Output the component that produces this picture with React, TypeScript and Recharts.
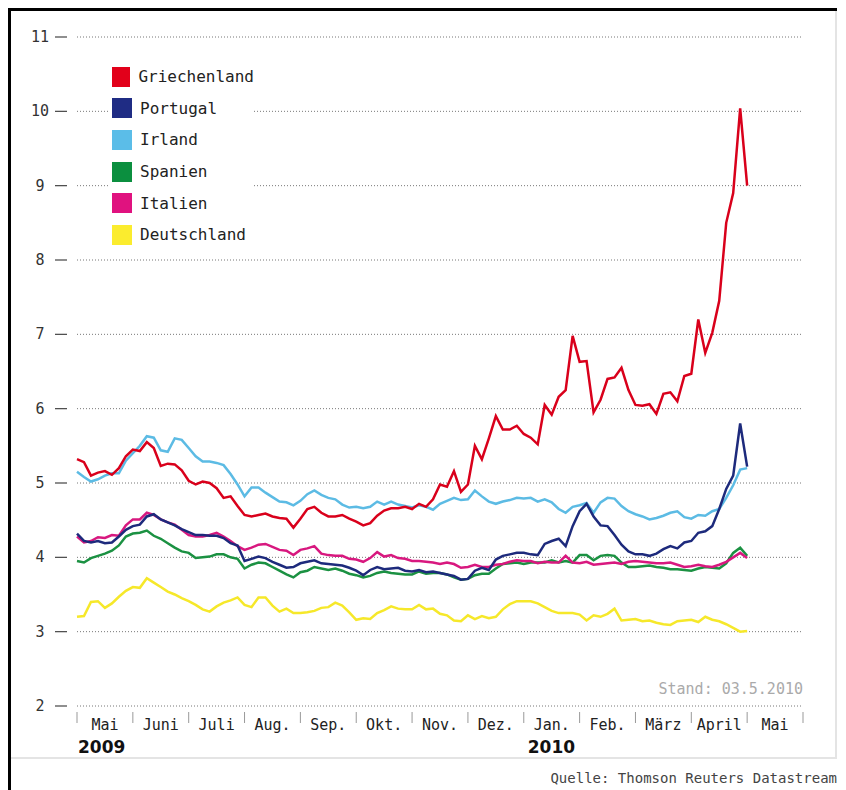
import React from "react";
import { LineChart, Line, XAxis, YAxis, CartesianGrid, Legend } from "recharts";

// Renditen 10-jähriger Staatsanleihen in %, Mai 2009 bis 3. Mai 2010
// 8 readings per month, last value = 03.05.2010
const MONTHS = ["Mai", "Juni", "Juli", "Aug.", "Sep.", "Okt.", "Nov.", "Dez.", "Jan.", "Feb.", "März", "April", "Mai"];
const YEAR_LABELS = [
  { at: 0, label: "2009" },
  { at: 8, label: "2010" },
];
const Y_TICKS = [2, 3, 4, 5, 6, 7, 8, 9, 10, 11];
const PER_MONTH = 8;

const griechenland = [
  5.32, 5.28, 5.10, 5.14, 5.16, 5.11, 5.20, 5.36,
  5.45, 5.43, 5.55, 5.47, 5.23, 5.26, 5.25, 5.17,
  5.03, 4.98, 5.02, 5.00, 4.93, 4.80, 4.82, 4.69,
  4.57, 4.55, 4.57, 4.59, 4.55, 4.53, 4.52, 4.40,
  4.52, 4.65, 4.68, 4.60, 4.55, 4.55, 4.57, 4.52,
  4.48, 4.43, 4.46, 4.56, 4.63, 4.66, 4.66, 4.68,
  4.65, 4.72, 4.68, 4.78, 4.98, 4.95, 5.16, 4.88,
  4.98, 5.50, 5.32, 5.60, 5.90, 5.72, 5.72, 5.77,
  5.66, 5.61, 5.52, 6.05, 5.92, 6.16, 6.25, 6.98,
  6.63, 6.64, 5.95, 6.12, 6.40, 6.42, 6.55, 6.25,
  6.05, 6.04, 6.06, 5.93, 6.20, 6.22, 6.10, 6.44,
  6.47, 7.20, 6.75, 7.02, 7.45, 8.50, 8.90, 10.04,
  9.00,
];
const portugal = [
  4.32, 4.22, 4.20, 4.22, 4.19, 4.20, 4.28, 4.37,
  4.42, 4.44, 4.55, 4.58, 4.51, 4.47, 4.43, 4.38,
  4.34, 4.30, 4.30, 4.29, 4.29, 4.26, 4.19, 4.16,
  3.95, 3.98, 4.01, 3.99, 3.94, 3.90, 3.86, 3.87,
  3.92, 3.94, 3.96, 3.92, 3.91, 3.90, 3.89, 3.86,
  3.82, 3.76, 3.83, 3.87, 3.84, 3.85, 3.86, 3.82,
  3.81, 3.83, 3.80, 3.81, 3.79, 3.77, 3.75, 3.70,
  3.71, 3.82, 3.86, 3.83, 3.97, 4.02, 4.04, 4.06,
  4.06, 4.04, 4.03, 4.18, 4.22, 4.25, 4.15, 4.42,
  4.62, 4.72, 4.55, 4.43, 4.42, 4.30, 4.17, 4.08,
  4.04, 4.04, 4.02, 4.05, 4.11, 4.15, 4.12, 4.20,
  4.22, 4.33, 4.35, 4.42, 4.65, 4.92, 5.10, 5.80,
  5.22,
];
const irland = [
  5.15, 5.08, 5.02, 5.05, 5.10, 5.13, 5.13, 5.30,
  5.40, 5.50, 5.63, 5.61, 5.44, 5.42, 5.60, 5.58,
  5.47, 5.36, 5.29, 5.29, 5.27, 5.24, 5.12, 4.98,
  4.82, 4.94, 4.94, 4.87, 4.81, 4.75, 4.74, 4.70,
  4.76, 4.85, 4.90, 4.84, 4.80, 4.78, 4.71, 4.67,
  4.68, 4.66, 4.68, 4.75, 4.71, 4.75, 4.71, 4.69,
  4.67, 4.70, 4.68, 4.64, 4.72, 4.76, 4.80, 4.77,
  4.78, 4.90, 4.82, 4.75, 4.72, 4.75, 4.77, 4.80,
  4.79, 4.80, 4.75, 4.78, 4.74, 4.65, 4.60, 4.68,
  4.70, 4.73, 4.60, 4.74, 4.80, 4.79, 4.69, 4.62,
  4.58, 4.55, 4.51, 4.53, 4.56, 4.60, 4.62, 4.54,
  4.52, 4.57, 4.56, 4.62, 4.65, 4.80, 4.97, 5.18,
  5.20,
];
const spanien = [
  3.95, 3.93, 3.99, 4.02, 4.05, 4.09, 4.16, 4.28,
  4.32, 4.33, 4.36, 4.29, 4.25, 4.19, 4.13, 4.08,
  4.06, 3.99, 4.00, 4.01, 4.04, 4.04, 4.00, 3.98,
  3.85, 3.90, 3.93, 3.92, 3.87, 3.82, 3.77, 3.73,
  3.80, 3.82, 3.87, 3.85, 3.83, 3.85, 3.82, 3.78,
  3.76, 3.73, 3.75, 3.79, 3.81, 3.79, 3.78, 3.77,
  3.77, 3.81, 3.78, 3.79, 3.79, 3.77, 3.73, 3.70,
  3.71, 3.76, 3.78, 3.78, 3.85, 3.91, 3.92, 3.93,
  3.91, 3.93, 3.93, 3.93, 3.96, 3.93, 3.95, 3.93,
  4.03, 4.03, 3.96, 4.02, 4.03, 4.02, 3.93, 3.87,
  3.87, 3.88, 3.89, 3.87, 3.86, 3.84, 3.84, 3.83,
  3.82, 3.85, 3.87, 3.86, 3.85, 3.92, 4.06, 4.13,
  4.02,
];
const italien = [
  4.28, 4.20, 4.22, 4.27, 4.26, 4.30, 4.29, 4.43,
  4.51, 4.51, 4.60, 4.57, 4.51, 4.47, 4.44, 4.37,
  4.30, 4.28, 4.28, 4.30, 4.33, 4.28, 4.22, 4.15,
  4.10, 4.13, 4.17, 4.18, 4.14, 4.10, 4.09, 4.03,
  4.10, 4.12, 4.15, 4.05, 4.03, 4.02, 4.02, 3.98,
  3.97, 3.94, 3.99, 4.07, 4.01, 4.03, 3.99, 3.98,
  3.95, 3.95, 3.94, 3.93, 3.91, 3.93, 3.91, 3.86,
  3.87, 3.90, 3.87, 3.87, 3.90, 3.91, 3.94, 3.96,
  3.95, 3.95, 3.92, 3.94, 3.93, 3.93, 4.02, 3.93,
  3.92, 3.94, 3.90, 3.91, 3.92, 3.93, 3.91, 3.94,
  3.95, 3.94, 3.93, 3.92, 3.92, 3.93, 3.90, 3.87,
  3.88, 3.90, 3.88, 3.87, 3.90, 3.94, 4.00, 4.06,
  3.99,
];
const deutschland = [
  3.20, 3.21, 3.40, 3.41, 3.32, 3.38, 3.47, 3.55,
  3.60, 3.59, 3.72, 3.66, 3.60, 3.54, 3.50, 3.45,
  3.41, 3.36, 3.30, 3.27, 3.34, 3.39, 3.42, 3.46,
  3.36, 3.33, 3.46, 3.46, 3.35, 3.27, 3.31, 3.25,
  3.25, 3.26, 3.28, 3.32, 3.33, 3.39, 3.35, 3.26,
  3.16, 3.18, 3.17, 3.25, 3.29, 3.34, 3.31, 3.30,
  3.30, 3.36, 3.30, 3.31, 3.24, 3.22, 3.15, 3.14,
  3.22, 3.17, 3.21, 3.18, 3.20, 3.30, 3.37, 3.41,
  3.41, 3.41, 3.38, 3.33, 3.28, 3.25, 3.25, 3.25,
  3.23, 3.15, 3.22, 3.20, 3.24, 3.31, 3.15, 3.16,
  3.17, 3.14, 3.15, 3.12, 3.10, 3.09, 3.14, 3.15,
  3.16, 3.13, 3.20, 3.16, 3.14, 3.10, 3.05, 3.00,
  3.01,
];

const SERIES = [
  { key: "Griechenland", values: griechenland, color: "#d9001b", swatch: "#e2001a" },
  { key: "Portugal", values: portugal, color: "#1d2a7c", swatch: "#1f2c84" },
  { key: "Irland", values: irland, color: "#5cbbe4", swatch: "#5bbde8" },
  { key: "Spanien", values: spanien, color: "#1b9142", swatch: "#0b8f3f" },
  { key: "Italien", values: italien, color: "#d8187f", swatch: "#e0127f" },
  { key: "Deutschland", values: deutschland, color: "#f6e82a", swatch: "#fbec2e" },
];
// drawing order, back to front
const DRAW_ORDER = ["Deutschland", "Spanien", "Italien", "Irland", "Portugal", "Griechenland"];

const data = griechenland.map((_, k) => {
  const row: Record<string, number> = { t: k / PER_MONTH };
  SERIES.forEach((s) => (row[s.key] = s.values[k]));
  return row;
});

const xTicks: number[] = [];
for (let i = 0; i <= MONTHS.length; i++) {
  xTicks.push(i);
  if (i < MONTHS.length) xTicks.push(i + 0.5);
}

const MONO = "'DejaVu Sans Mono', 'Liberation Mono', monospace";

const YTick = (props: any) => {
  const { x, y, payload } = props;
  return (
    <g>
      <text x={x - 37} y={y} textAnchor="middle" dominantBaseline="central" fontFamily={MONO} fontSize={15} fill="#333">
        {payload.value}
      </text>
      <line x1={x - 22} x2={x - 10} y1={y} y2={y} stroke="#444" strokeWidth={1.2} />
    </g>
  );
};

const XTick = (props: any) => {
  const { x, y, payload } = props;
  const v = payload.value as number;
  if (Number.isInteger(v)) {
    const year = YEAR_LABELS.find((yl) => yl.at === v);
    return (
      <g>
        <line x1={x} x2={x} y1={y + 6} y2={y + 17} stroke="#999" strokeWidth={1} />
        {year && (
          <text x={x + (v === 0 ? 1 : 4)} y={y + 47} textAnchor="start" fontFamily="'DejaVu Sans', sans-serif" fontWeight="bold" fontSize={17} fill="#111">
            {year.label}
          </text>
        )}
      </g>
    );
  }
  return (
    <text x={x} y={y + 24} textAnchor="middle" fontFamily={MONO} fontSize={15} fill="#222">
      {MONTHS[Math.floor(v)]}
    </text>
  );
};

const LegendBox = () => (
  <div style={{ background: "#fff", width: 146, fontFamily: MONO, fontSize: 16, color: "#222" }}>
    {SERIES.map((s) => (
      <div key={s.key} style={{ height: 31.6, display: "flex", alignItems: "center" }}>
        <span style={{ width: 20, height: 20, background: s.swatch, marginLeft: 4, marginRight: 8, display: "inline-block" }} />
        <span>{s.key}</span>
      </div>
    ))}
  </div>
);

export default function App() {
  return (
    <>
      <style>{"html, body { overflow: hidden; }"}</style>
      <div
        style={{
          position: "relative",
          width: 826,
          height: 779,
          borderTop: "3px solid #000",
          borderLeft: "3px solid #000",
          background: "#fff",
        }}
      >
        <div
          style={{
            position: "absolute",
            left: 0,
            top: 0,
            width: 824,
            height: 746,
            borderRight: "2px solid #e4e4e4",
            borderBottom: "2px solid #e4e4e4",
          }}
        >
          <LineChart width={800} height={750} data={data} margin={{ top: 26, right: 8, bottom: 5, left: 0 }}>
            <CartesianGrid vertical={false} stroke="#777" strokeDasharray="1 2" />
            <XAxis
              dataKey="t"
              type="number"
              domain={[0, MONTHS.length]}
              ticks={xTicks}
              interval={0}
              tickLine={false}
              axisLine={false}
              tickSize={0}
              tickMargin={0}
              height={50}
              tick={<XTick />}
            />
            <YAxis
              type="number"
              domain={[2, 11]}
              ticks={Y_TICKS}
              interval={0}
              width={66}
              tickLine={false}
              axisLine={false}
              tickSize={0}
              tickMargin={0}
              tick={<YTick />}
            />
            <Legend
              layout="vertical"
              align="center"
              verticalAlign="middle"
              wrapperStyle={{ left: 97, top: 50, width: 146 }}
              content={() => <LegendBox />}
            />
            {DRAW_ORDER.map((k) => {
              const s = SERIES.find((x) => x.key === k)!;
              return (
                <Line
                  key={k}
                  dataKey={k}
                  type="linear"
                  stroke={s.color}
                  strokeWidth={2.5}
                  dot={false}
                  activeDot={false}
                  isAnimationActive={false}
                />
              );
            })}
          </LineChart>
          <div
            style={{
              position: "absolute",
              left: 0,
              width: 792,
              top: 669,
              textAlign: "right",
              fontFamily: MONO,
              fontSize: 15,
              lineHeight: "18px",
              color: "#aaa",
            }}
          >
            Stand: 03.5.2010
          </div>
        </div>
        <div
          style={{
            position: "absolute",
            right: 0,
            top: 758,
            fontFamily: MONO,
            fontSize: 14,
            lineHeight: "18px",
            color: "#444",
            whiteSpace: "nowrap",
          }}
        >
          Quelle: Thomson Reuters Datastream
        </div>
      </div>
    </>
  );
}
